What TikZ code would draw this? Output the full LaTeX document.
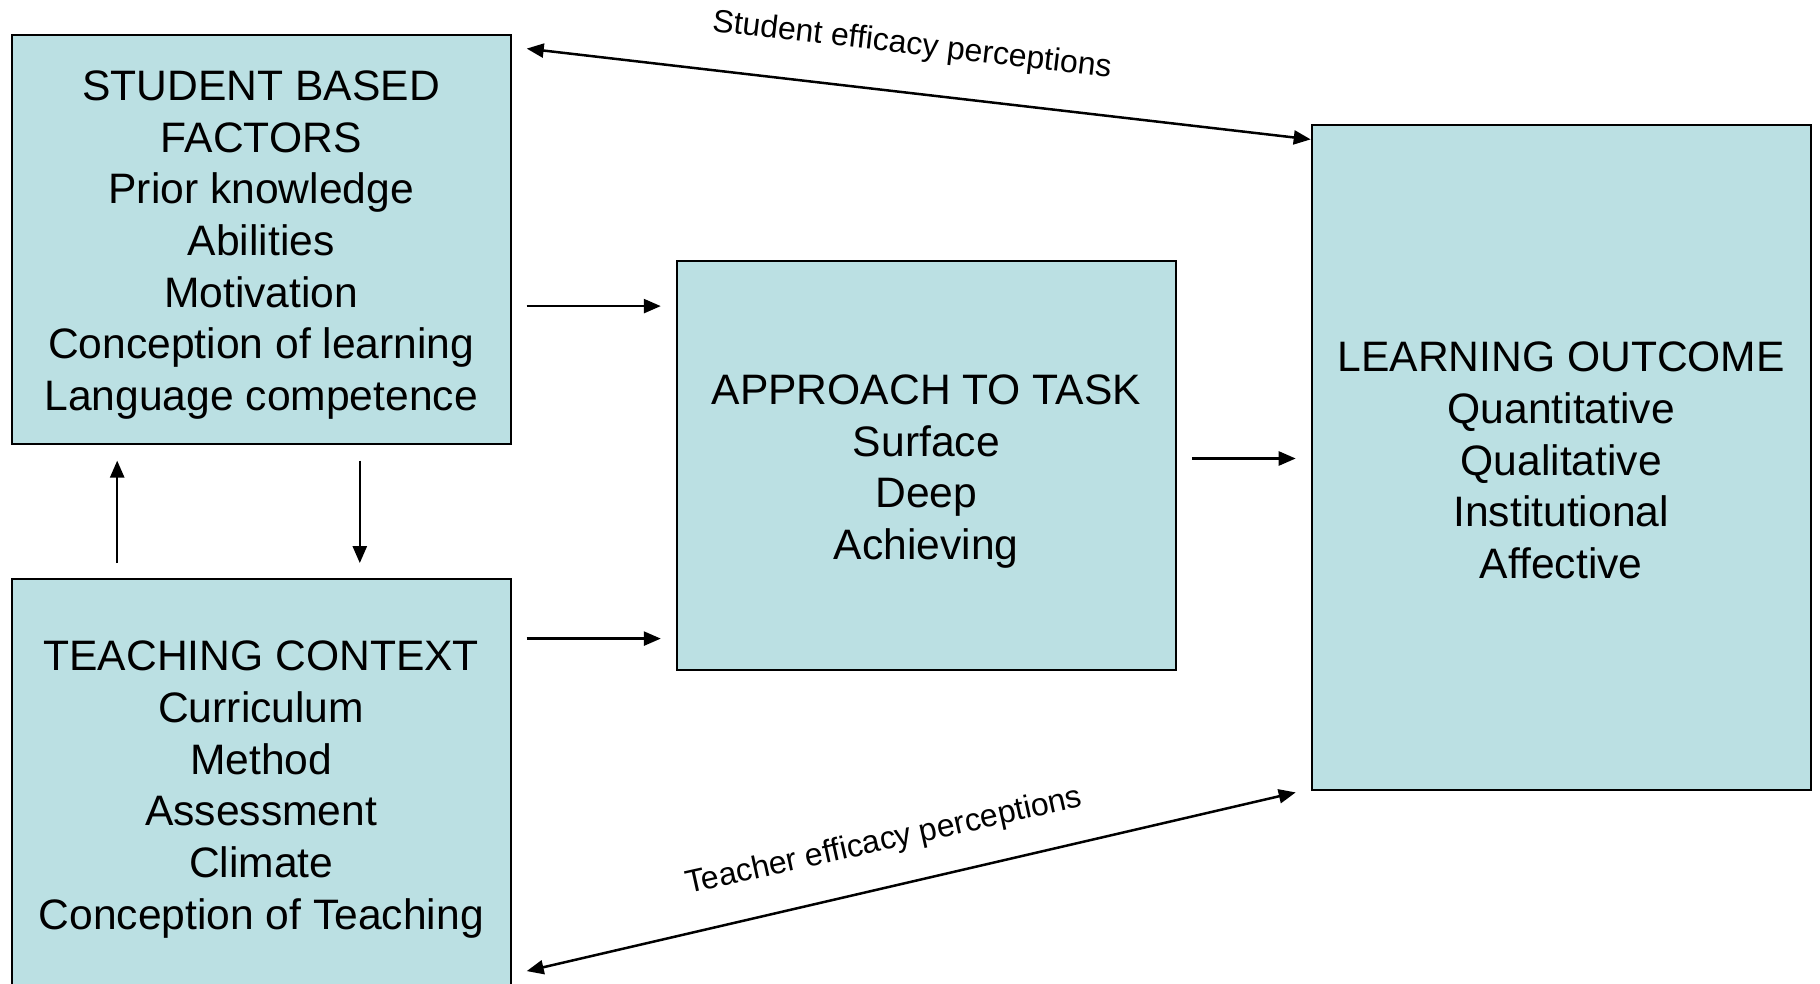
\documentclass[tikz,border=0pt]{standalone}
\usepackage{fontspec}
\setmainfont{Liberation Sans}
\usetikzlibrary{arrows.meta,calc}
\definecolor{boxfill}{HTML}{BBE0E3}
\begin{document}
\begin{tikzpicture}[x=1pt,y=-1pt,
  factor/.style={rectangle, draw=black, line width=2pt, fill=boxfill,
    minimum width=499pt, minimum height=409pt, inner sep=0pt},
  factortext/.style={inner sep=0pt, align=center,
    font=\fontsize{42.6}{51.7}\selectfont},
  link/.style={line width=2.5pt, -{Triangle[length=17pt,width=14pt]}},
  twoway/.style={line width=2.5pt,
    {Triangle[length=17pt,width=14pt]}-{Triangle[length=17pt,width=14pt]}},
  efflabel/.style={font=\fontsize{32}{38}\selectfont, inner sep=0pt}]
\useasboundingbox (0,0) rectangle (1820,984);

% the four factor boxes
\node[factor] (student) at (261.2,239.1) {};
\node[factor] (teach) at (261.2,783.6) {};
\node[factor] (approach) at (926.3,465.5) {};
\node[factor, minimum height=665pt] (outcome) at (1561.2,457.9) {};

% their contents
\node[factortext] (studenttext) at ([yshift=-6pt]student.center)
  {STUDENT BASED\\FACTORS\\Prior knowledge\\Abilities\\Motivation\\Conception of learning\\Language competence};
\node[factortext] (teachtext) at ([yshift=-6pt]teach.center)
  {TEACHING CONTEXT\\Curriculum\\Method\\Assessment\\Climate\\Conception of Teaching};
\node[factortext] (approachtext) at ([yshift=-6pt]approach.center)
  {APPROACH TO TASK\\Surface\\Deep\\Achieving};
\node[factortext] (outcometext) at ([yshift=-2.5pt]outcome.center)
  {LEARNING OUTCOME\\Quantitative\\Qualitative\\Institutional\\Affective};

% horizontal links into the task approach and the outcome
\coordinate (sa) at ([yshift=-67pt]student.east);
\coordinate (ta) at ([yshift=145pt]teach.east);
\coordinate (ao) at ([yshift=7pt]approach.east);
\draw[link] ($(sa)+(15,0)$) -- ($(sa -| approach.west)+(-15,0)$);
\draw[link] ($(ta)+(15,0)$) -- ($(ta -| approach.west)+(-15,0)$);
\draw[link] ($(ao)+(15,0)$) -- ($(ao -| outcome.west)+(-15,0)$);

% vertical links between student factors and teaching context
\coordinate (up) at ($(student.south)+(-144,0)$);
\coordinate (dn) at ($(student.south)+(98.6,0)$);
\draw[link] ($(up |- teach.north)+(0,-15)$) -- ($(up)+(0,16)$);
\draw[link] ($(dn)+(0,16)$) -- ($(dn |- teach.north)+(0,-15)$);

% efficacy perceptions
\draw[twoway] ($(student.north east)+(15,15)$) -- ($(outcome.north west)+(0,15)$);
\draw[twoway] ($(teach.south east)+(15,-18)$) -- ($(outcome.south west)+(-15,1)$);
\node[efflabel, rotate=-6.6] (slabel) at (912,46) {Student efficacy perceptions};
\node[efflabel, rotate=12.5] (tlabel) at (884,842) {Teacher efficacy perceptions};
\end{tikzpicture}
\end{document}
